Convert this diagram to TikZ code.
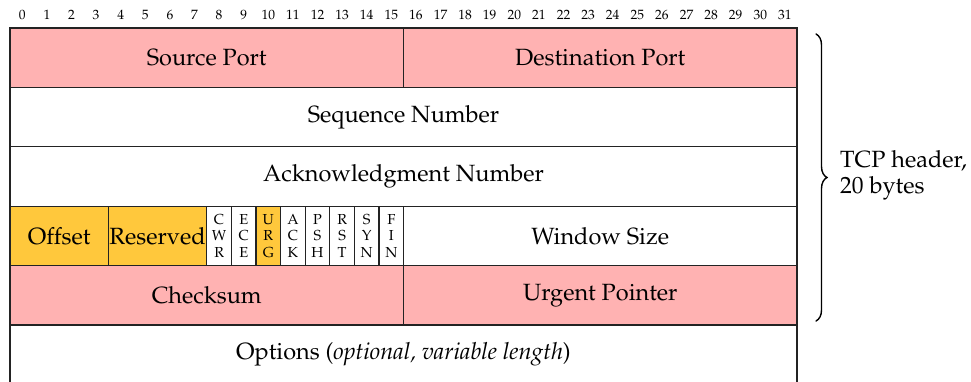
\documentclass[tikz,border=0pt]{standalone}
\usepackage[T1]{fontenc}
\usepackage{mathpazo}
\usetikzlibrary{decorations.pathreplacing}

\definecolor{fieldpink}{RGB}{255,178,178}
\definecolor{fieldgold}{RGB}{255,200,60}
\definecolor{rulegray}{RGB}{35,35,35}

\tikzset{
  field/.style={draw=rulegray, line width=1.1pt, inner sep=0pt, outer sep=0pt,
    minimum height=59.4pt, fill=white, font=\fontsize{23.5}{26}\selectfont},
  pinkfield/.style={field, fill=fieldpink},
  goldfield/.style={field, fill=fieldgold},
  flagbit/.style={field, minimum width=24.6pt, align=center,
    font=\fontsize{14.5}{16.3}\selectfont},
  bitnum/.style={inner sep=0pt, font=\fontsize{13.5}{15}\selectfont},
  headerbrace/.style={decorate, decoration={brace, amplitude=11pt},
    line width=1.4pt, line cap=round},
}

\begin{document}
\begin{tikzpicture}[x=1pt, y=-1pt]
  \useasboundingbox (0,0) rectangle (971,381);

  % bit positions above the header
  \foreach \i in {0,...,31}
    \node[bitnum] (bit\i) at ({10+24.6*(\i+0.5)},15) {\i};

  % row 1: ports
  \node[pinkfield, minimum width=393.5pt] (srcport) at (206.75,57.7) {Source Port};
  \node[pinkfield, minimum width=393.5pt] (dstport) at (600.25,57.7) {Destination Port};

  % rows 2 and 3: sequence and acknowledgment numbers
  \node[field, minimum width=787pt] (seqnum) at (403.5,117.1) {Sequence Number};
  \node[field, minimum width=787pt] (acknum) at (403.5,176.5) {Acknowledgment Number};

  % row 4: offset, reserved bits, flags, window
  \node[goldfield, minimum width=98.4pt] (offset) at (59.2,235.9) {Offset};
  \node[goldfield, minimum width=98.4pt] (reserved) at (157.6,235.9) {Reserved};
  \node[flagbit] (cwr) at ({206.8+24.6*0.5},235.9) {C\\W\\R};
  \node[flagbit] (ece) at ({206.8+24.6*1.5},235.9) {E\\C\\E};
  \node[flagbit, fill=fieldgold] (urg) at ({206.8+24.6*2.5},235.9) {U\\R\\G};
  \node[flagbit] (ackf) at ({206.8+24.6*3.5},235.9) {A\\C\\K};
  \node[flagbit] (psh) at ({206.8+24.6*4.5},235.9) {P\\S\\H};
  \node[flagbit] (rst) at ({206.8+24.6*5.5},235.9) {R\\S\\T};
  \node[flagbit] (syn) at ({206.8+24.6*6.5},235.9) {S\\Y\\N};
  \node[flagbit] (fin) at ({206.8+24.6*7.5},235.9) {F\\I\\N};
  \node[field, minimum width=393.5pt] (window) at (600.25,235.9) {Window Size};

  % row 5: checksum and urgent pointer
  \node[pinkfield, minimum width=393.5pt] (checksum) at (206.75,295.3) {Checksum};
  \node[pinkfield, minimum width=393.5pt] (urgptr) at (600.25,295.3) {Urgent Pointer};

  % options row, running on past the bottom edge
  \node[field, minimum width=787pt] (options) at (403.5,354.7)
    {Options (\textit{optional, variable length})};

  % brace over the fixed 20-byte part
  \coordinate (bracetop) at (816,34);
  \coordinate (bracebot) at (816,321);
  \draw[headerbrace] (bracetop) -- (bracebot);
  \node[anchor=west, align=left, inner sep=0pt,
        font=\fontsize{23.5}{26}\selectfont] (hdrlabel) at (840,175)
    {TCP header,\\20 bytes};
\end{tikzpicture}
\end{document}
